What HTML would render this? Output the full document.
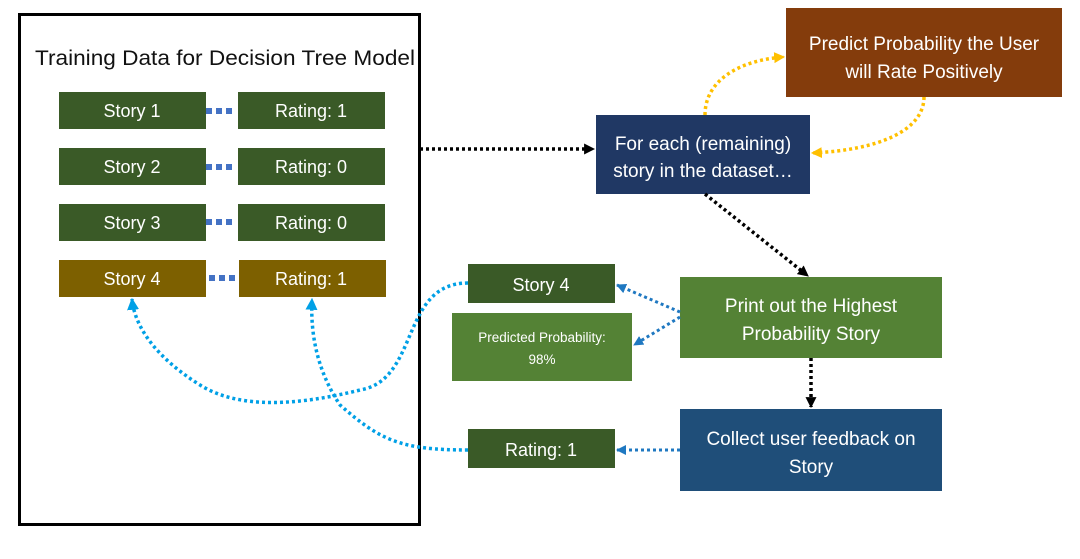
<!DOCTYPE html>
<html><head><meta charset="utf-8"><style>
body{margin:0;background:#fff;width:1080px;height:554px;overflow:hidden}
text{font-family:"Liberation Sans",sans-serif;fill:#fff}
</style></head><body>
<svg width="1080" height="554" viewBox="0 0 1080 554" xmlns="http://www.w3.org/2000/svg">
<defs>
<marker id="ab" viewBox="0 0 10 10" refX="9" refY="5" markerWidth="11" markerHeight="11" orient="auto" markerUnits="userSpaceOnUse"><path d="M0,0L10,5L0,10z" fill="#000"/></marker>
<marker id="ay" viewBox="0 0 10 10" refX="9" refY="5" markerWidth="11" markerHeight="11" orient="auto" markerUnits="userSpaceOnUse"><path d="M0,0L10,5L0,10z" fill="#ffc000"/></marker>
<marker id="ac" viewBox="0 0 10 10" refX="9" refY="5" markerWidth="12" markerHeight="12" orient="auto" markerUnits="userSpaceOnUse"><path d="M0,0L10,5L0,10z" fill="#00a0e6"/></marker>
<marker id="ad" viewBox="0 0 10 10" refX="9" refY="5" markerWidth="10" markerHeight="10" orient="auto" markerUnits="userSpaceOnUse"><path d="M0,0L10,5L0,10z" fill="#1f78c1"/></marker>
</defs>
<rect x="19.5" y="14.5" width="400" height="510" fill="none" stroke="#000" stroke-width="3"/>
<text x="225" y="65" font-size="21.5" text-anchor="middle" style="fill:#111" textLength="380" lengthAdjust="spacingAndGlyphs">Training Data for Decision Tree Model</text>
<g font-size="18" text-anchor="middle">
<rect x="59" y="92" width="147" height="37" fill="#3a5a27"/><rect x="238" y="92" width="147" height="37" fill="#3a5a27"/>
<text x="132" y="117">Story 1</text><text x="311" y="117">Rating: 1</text>
<rect x="59" y="148" width="147" height="37" fill="#3a5a27"/><rect x="238" y="148" width="147" height="37" fill="#3a5a27"/>
<text x="132" y="173">Story 2</text><text x="311" y="173">Rating: 0</text>
<rect x="59" y="204" width="147" height="37" fill="#3a5a27"/><rect x="238" y="204" width="147" height="37" fill="#3a5a27"/>
<text x="132" y="229">Story 3</text><text x="311" y="229">Rating: 0</text>
<rect x="59" y="260" width="147" height="37" fill="#7d6000"/><rect x="239" y="260" width="147" height="37" fill="#7d6000"/>
<text x="132" y="285">Story 4</text><text x="311" y="285">Rating: 1</text>
</g>
<g stroke="#4472c4" stroke-width="6" stroke-dasharray="6,4">
<line x1="206" y1="111" x2="236" y2="111"/><line x1="206" y1="167" x2="236" y2="167"/><line x1="206" y1="222" x2="236" y2="222"/><line x1="209" y1="278" x2="239" y2="278"/>
</g>
<rect x="786" y="8" width="276" height="89" fill="#843c0c"/>
<text x="924" y="50" font-size="19" text-anchor="middle">Predict Probability the User</text>
<text x="924" y="78" font-size="19" text-anchor="middle">will Rate Positively</text>
<rect x="596" y="115" width="214" height="79" fill="#203864"/>
<text x="703" y="150" font-size="19" text-anchor="middle">For each (remaining)</text>
<text x="703" y="177" font-size="19" text-anchor="middle">story in the dataset…</text>
<rect x="680" y="277" width="262" height="81" fill="#548235"/>
<text x="811" y="312" font-size="19" text-anchor="middle">Print out the Highest</text>
<text x="811" y="340" font-size="19" text-anchor="middle">Probability Story</text>
<rect x="680" y="409" width="262" height="82" fill="#1f4e79"/>
<text x="811" y="445" font-size="19" text-anchor="middle">Collect user feedback on</text>
<text x="811" y="473" font-size="19" text-anchor="middle">Story</text>
<rect x="468" y="264" width="147" height="39" fill="#3a5a27"/>
<text x="541" y="291" font-size="18" text-anchor="middle">Story 4</text>
<rect x="452" y="313" width="180" height="68" fill="#548235"/>
<text x="542" y="342" font-size="13.5" text-anchor="middle">Predicted Probability:</text>
<text x="542" y="364" font-size="13.5" text-anchor="middle">98%</text>
<rect x="468" y="429" width="147" height="39" fill="#3a5a27"/>
<text x="541" y="456" font-size="18" text-anchor="middle">Rating: 1</text>
<g fill="none" stroke-dasharray="3,3" stroke-width="3.5">
<line x1="420" y1="149" x2="594" y2="149" stroke="#000" marker-end="url(#ab)"/>
<line x1="705" y1="194" x2="808" y2="276" stroke="#000" marker-end="url(#ab)"/>
<line x1="811" y1="358" x2="811" y2="407" stroke="#000" marker-end="url(#ab)"/>
<path d="M705,115 C705,80 740,60 784,57" stroke="#ffc000" marker-end="url(#ay)"/>
<path d="M924,97 C924,130 880,150 812,153" stroke="#ffc000" marker-end="url(#ay)"/>
<path d="M680,312 L617,285" stroke="#1f78c1" stroke-width="3" marker-end="url(#ad)"/>
<path d="M680,317 L634,345" stroke="#1f78c1" stroke-width="3" marker-end="url(#ad)"/>
<path d="M680,450 L617,450" stroke="#1f78c1" stroke-width="3" marker-end="url(#ad)"/>
<path d="M468,283 C400,283 420,380 360,390 C300,405 240,410 200,385 C160,360 135,330 132,299" stroke="#00a0e6" marker-end="url(#ac)"/>
<path d="M468,450 C400,450 380,440 340,405 C320,375 310,340 312,299" stroke="#00a0e6" marker-end="url(#ac)"/>
</g>
</svg>
</body></html>
